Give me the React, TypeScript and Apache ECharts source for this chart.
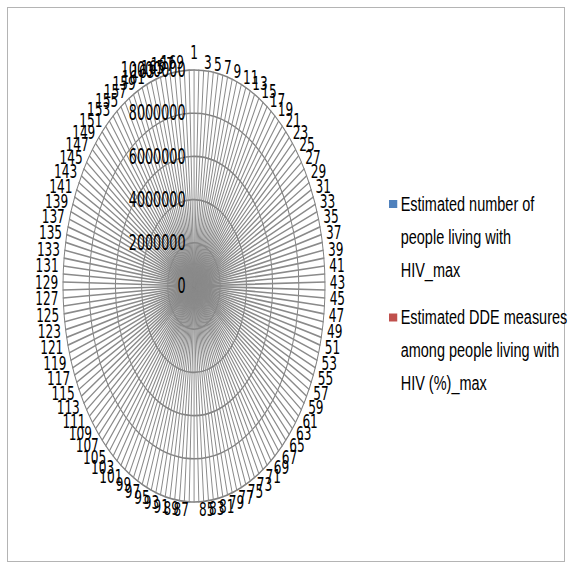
import React, { useEffect, useRef } from "react";
import * as echarts from "echarts";

// Category labels around the radar (1..170, every other one is printed)
const categories: string[] = Array.from({ length: 170 }, (_, i) => String(i + 1));

// Radial value ticks
const radialTicks: number[] = [0, 2000000, 4000000, 6000000, 8000000, 10000000];

// Series shown in the legend
const seriesNames: string[] = [
  "Estimated number of people living with HIV_max",
  "Estimated DDE measures among people living with HIV (%)_max",
];
const seriesColors: string[] = ["#4F81BD", "#C0504D"];
const legendLines: string[][] = [
  ["Estimated number of", "people living with", "HIV_max"],
  ["Estimated DDE measures", "among people living with", "HIV (%)_max"],
];

// The plot is drawn stretched vertically: horizontal squeeze factors
const RADAR_SX = 0.6065;
const LEGEND_SX = 0.69;

export default function App() {
  const radarRef = useRef<HTMLDivElement>(null);
  const legendRef = useRef<HTMLDivElement>(null);

  useEffect(() => {
    if (!radarRef.current || !legendRef.current) return;
    const radarChart = echarts.init(radarRef.current, undefined, { renderer: "svg" });
    const legendChart = echarts.init(legendRef.current, undefined, { renderer: "svg" });

    const maxVal = radialTicks[radialTicks.length - 1];
    // ECharts lays indicators out counter-clockwise; reverse so they run clockwise from the top
    const ordered = [categories[0], ...categories.slice(1).reverse()];

    radarChart.setOption({
      animation: false,
      radar: {
        center: [194 / RADAR_SX, 286],
        radius: 216,
        shape: "circle",
        startAngle: 90,
        splitNumber: radialTicks.length - 1,
        nameGap: 8,
        axisName: {
          color: "#000",
          fontFamily: "DejaVu Sans",
          fontSize: 20,
          formatter: (name: string) => (Number(name) % 2 === 1 ? name : ""),
        },
        indicator: ordered.map((c, i) => {
          const ind: any = { name: c, min: radialTicks[0], max: maxVal };
          if (i === 0) {
            ind.axisLabel = {
              show: true,
              color: "#000",
              fontFamily: "DejaVu Sans",
              fontSize: 21,
              margin: 14,
              formatter: (v: number) => String(v),
            };
          }
          return ind;
        }),
        axisLine: { lineStyle: { color: "#8a8a8a", width: 1.6 } },
        splitLine: { lineStyle: { color: "#808080", width: 1.6 } },
        splitArea: { show: false },
        axisTick: { show: false },
        axisLabel: { show: false },
      },
    });

    // Two leading blank lines keep the first text line level with the legend swatch
    legendChart.setOption({
      animation: false,
      grid: { show: false, left: 0, top: 0, width: 1, height: 1 },
      xAxis: { type: "category", show: false, data: [] },
      yAxis: { type: "value", show: false },
      legend: {
        orient: "vertical",
        left: 13,
        top: 41.5,
        padding: 0,
        itemWidth: 12,
        itemHeight: 8,
        itemGap: -51.5,
        icon: "rect",
        selectedMode: false,
        data: seriesNames,
        formatter: (name: string) => "\n\n" + legendLines[seriesNames.indexOf(name)].join("\n"),
        textStyle: {
          fontFamily: "Liberation Sans",
          fontSize: 21,
          lineHeight: 33,
          color: "#000",
        },
      },
      series: seriesNames.map((n, i) => ({
        type: "line",
        name: n,
        data: [],
        itemStyle: { color: seriesColors[i] },
        lineStyle: { color: seriesColors[i] },
      })),
    });

    return () => {
      radarChart.dispose();
      legendChart.dispose();
    };
  }, []);

  return (
    <div
      style={{
        position: "fixed",
        left: 0,
        top: 0,
        width: 569,
        height: 571,
        background: "#fff",
        overflow: "hidden",
      }}
    >
      <div
        style={{
          position: "absolute",
          left: 7,
          top: 7,
          width: 558,
          height: 555,
          border: "1px solid #b4b4b4",
          boxSizing: "border-box",
        }}
      />
      <div
        ref={radarRef}
        style={{
          position: "absolute",
          left: 0,
          top: 0,
          width: 370 / RADAR_SX,
          height: 571,
          transform: `scaleX(${RADAR_SX})`,
          transformOrigin: "0 0",
        }}
      />
      <div
        ref={legendRef}
        style={{
          position: "absolute",
          left: 380,
          top: 80,
          width: 188 / LEGEND_SX,
          height: 360,
          transform: `scaleX(${LEGEND_SX})`,
          transformOrigin: "0 0",
        }}
      />
    </div>
  );
}
